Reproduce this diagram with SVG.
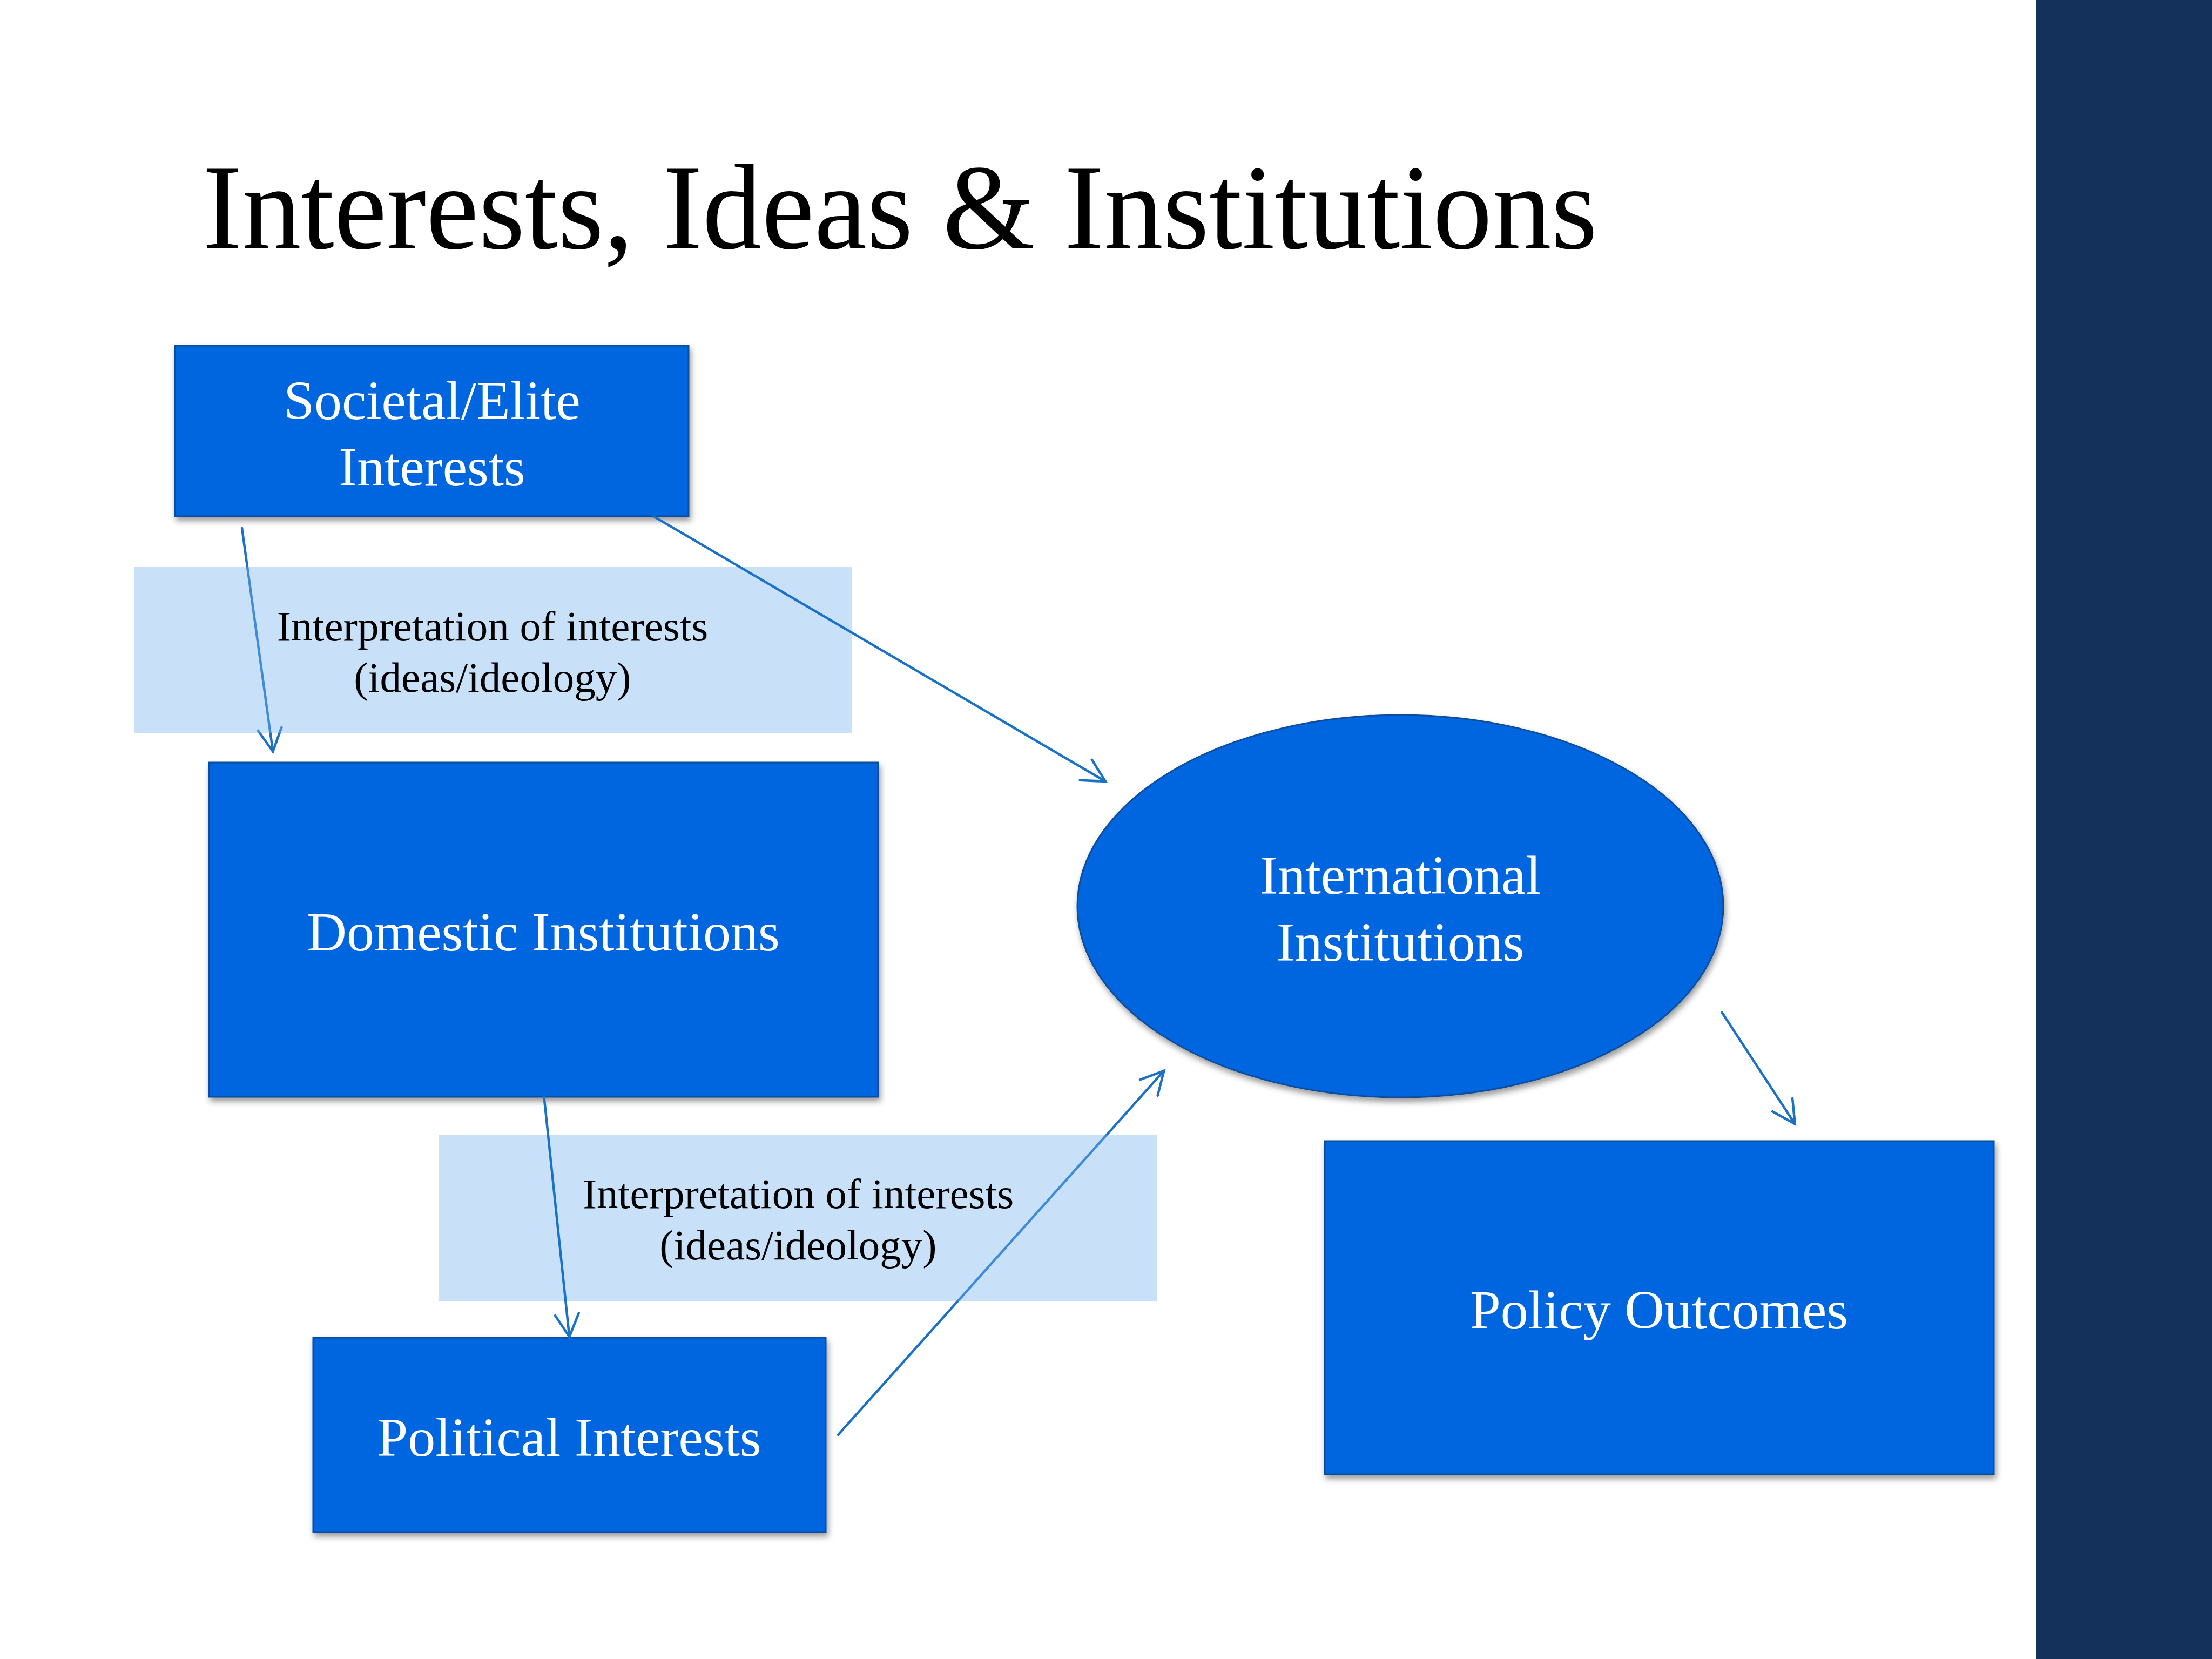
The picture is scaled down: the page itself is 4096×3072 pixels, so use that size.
<svg xmlns="http://www.w3.org/2000/svg" width="4096" height="3072" viewBox="0 0 4096 3072">
  <style>
    .node { fill: #0066E0; stroke: #0D4E9C; stroke-width: 3; filter: url(#shadow); }
    .ntext { font-family: "Liberation Serif", "Times New Roman", serif; font-size: 102px; fill: #FFFFFF; text-anchor: middle; }
    .label { fill: rgb(118,180,238); fill-opacity: 0.4; }
    .ltext { font-family: "Liberation Serif", "Times New Roman", serif; font-size: 79px; fill: #000000; text-anchor: middle; }
    .conn { fill: none; stroke: #1B70C8; stroke-width: 4.5; stroke-linecap: round; marker-end: url(#arrow); }
    .title { font-family: "Liberation Serif", "Times New Roman", serif; font-size: 224px; fill: #000000; }
  </style>
  <defs>
    <filter id="shadow" x="-10%" y="-10%" width="125%" height="130%">
      <feDropShadow dx="3" dy="7" stdDeviation="6" flood-color="#000000" flood-opacity="0.4"/>
    </filter>
    <marker id="arrow" viewBox="-48 -28 54 56" markerWidth="54" markerHeight="56" refX="0" refY="0" orient="auto" markerUnits="userSpaceOnUse">
      <path d="M-42,-22 L0,0 L-42,22" fill="none" stroke="#1B70C8" stroke-width="4.5" stroke-linecap="round" stroke-linejoin="miter"/>
    </marker>
  </defs>

  <rect x="0" y="0" width="4096" height="3072" fill="#FFFFFF"/>
  <rect id="sidebar" x="3771" y="0" width="325" height="3072" fill="#13315A"/>

  <text id="title" class="title" x="375" y="460" textLength="2583" lengthAdjust="spacingAndGlyphs">Interests, Ideas &amp; Institutions</text>

  <g id="connectors-back">
    <line class="conn" x1="448" y1="977.5" x2="505.3" y2="1391.5"/>
    <line class="conn" x1="1552" y1="2656.8" x2="2155.3" y2="1982.8"/>
  </g>

  <g id="label-1">
    <rect class="label" x="248" y="1050" width="1330" height="308"/>
    <text class="ltext" x="912" y="1186">Interpretation of interests</text>
    <text class="ltext" x="912" y="1281">(ideas/ideology)</text>
  </g>

  <g id="label-2">
    <rect class="label" x="813" y="2101" width="1330" height="308"/>
    <text class="ltext" x="1478" y="2237">Interpretation of interests</text>
    <text class="ltext" x="1478" y="2332">(ideas/ideology)</text>
  </g>

  <g id="societal-elite-interests">
    <rect class="node" x="324" y="640" width="951" height="316"/>
    <text class="ntext" x="800" y="776">Societal/Elite</text>
    <text class="ntext" x="800" y="899">Interests</text>
  </g>

  <g id="domestic-institutions">
    <rect class="node" x="387" y="1412" width="1239" height="619"/>
    <text class="ntext" x="1006" y="1760">Domestic Institutions</text>
  </g>

  <g id="political-interests">
    <rect class="node" x="580" y="2477" width="949" height="360"/>
    <text class="ntext" x="1054" y="2696">Political Interests</text>
  </g>

  <g id="international-institutions">
    <ellipse class="node" cx="2593" cy="1678" rx="598" ry="354"/>
    <text class="ntext" x="2593" y="1655">International</text>
    <text class="ntext" x="2593" y="1779">Institutions</text>
  </g>

  <g id="policy-outcomes">
    <rect class="node" x="2453" y="2113" width="1239" height="617"/>
    <text class="ntext" x="3072" y="2460">Policy Outcomes</text>
  </g>

  <g id="connectors">
    <line class="conn" x1="1211" y1="956.6" x2="2047" y2="1447"/>
    <line class="conn" x1="1007.5" y1="2031.5" x2="1054.3" y2="2475.5"/>
    <line class="conn" x1="3188.4" y1="1874.5" x2="3323.7" y2="2081.3"/>
  </g>
</svg>
